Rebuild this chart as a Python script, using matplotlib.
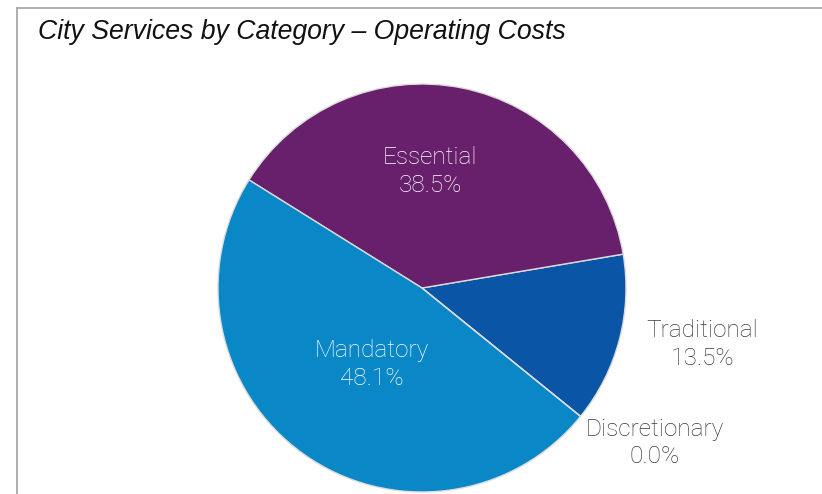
import matplotlib.pyplot as plt
from matplotlib.lines import Line2D

# slice data, counter-clockwise from the lower right
categories = ['Traditional', 'Essential', 'Mandatory', 'Discretionary']
shares = [13.5, 38.5, 48.1, 0.0]
colours = ['#0a55a6', '#68206c', '#0a87c7', '#0a87c7']
# label centres in units of the pie radius
label_x = [1.373, 0.04, -0.245, 1.14]
label_y = [-0.275, 0.57, -0.373, -0.76]
label_c = ['#3a3a3a', 'white', 'white', '#3a3a3a']

fig = plt.figure(figsize=(8.22, 4.94), dpi=100)
fig.patch.set_facecolor('white')

# thin grey frame along the top and left
fig.add_artist(Line2D([17/822, 1], [1-8/494, 1-8/494], color='#a8a8a8', lw=1.3))
fig.add_artist(Line2D([17/822, 17/822], [0, 1-8/494], color='#a8a8a8', lw=1.3))

fig.text(38/822, 1-32/494, 'City Services by Category \u2013 Operating Costs',
         fontsize=19.2, style='italic', family='Liberation Sans',
         ha='left', va='center', color='#111111')

# pie centre (422, 288) px, radius ~204 px
R = 204
ax = fig.add_axes([(422-R)/822, (494-288-R)/494, 2*R/822, 2*R/494])
wedges, _ = ax.pie(shares, colors=colours, startangle=-39, counterclock=True,
                   radius=1.0, normalize=True,
                   wedgeprops=dict(edgecolor='#dcdcdc', linewidth=1.0))
ax.set_xlim(-1, 1)
ax.set_ylim(-1, 1)
ax.set_aspect('auto')
ax.axis('off')

for name, val, x, y, c in zip(categories, shares, label_x, label_y, label_c):
    ax.text(x, y, '%s\n%.1f%%' % (name, val),
            ha='center', va='center', color=c, fontsize=17.6,
            family=['Roboto', 'DejaVu Sans'], fontweight='light',
            linespacing=1.27, clip_on=False)

fig.savefig('out.png', dpi=100, facecolor='white')
